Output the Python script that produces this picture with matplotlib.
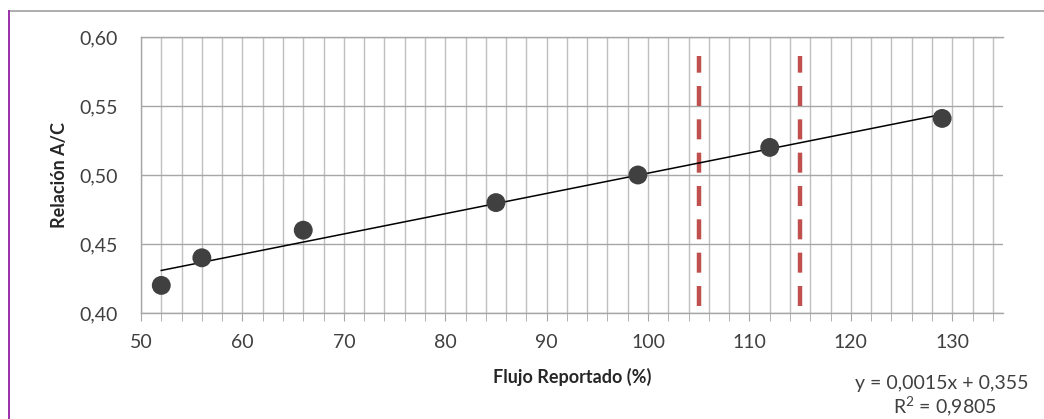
import numpy as np
import matplotlib
matplotlib.use("Agg")
import matplotlib.pyplot as plt
from matplotlib.ticker import MultipleLocator, FuncFormatter
from matplotlib.lines import Line2D

flujo = [52, 56, 66, 85, 99, 112, 129]
relacion = [0.42, 0.44, 0.46, 0.48, 0.50, 0.52, 0.541]
limites = [105, 115]
ecuacion = "y = 0,0015x + 0,355"
r2_texto = "R$^2$ = 0,9805"

plt.rcParams['font.family'] = ['Lato', 'DejaVu Sans']
plt.rcParams['mathtext.fontset'] = 'custom'
plt.rcParams['mathtext.rm'] = 'Lato'

fig = plt.figure(figsize=(10.44, 4.19), dpi=100)
ax = fig.add_axes([141 / 1044, 1 - 313 / 419, (1003 - 141) / 1044, (313 - 37) / 419])

# trend line from least squares fit
m, b = np.polyfit(flujo, relacion, 1)
xs = np.array([min(flujo), max(flujo)])
ax.plot(xs, m * xs + b, color="black", lw=1.1, zorder=3)

ax.scatter(flujo, relacion, s=185, color="#404040", zorder=4, edgecolors="none")

for x0 in limites:
    ax.plot([x0, x0], [0.405, 0.586], color="#C0504D", lw=3.2,
            dashes=(4.5, 3.0), zorder=2)

ax.set_xlim(50, 135)
ax.set_ylim(0.40, 0.60)
ax.xaxis.set_major_locator(MultipleLocator(10))
ax.xaxis.set_minor_locator(MultipleLocator(2))
ax.yaxis.set_major_locator(MultipleLocator(0.05))
ax.yaxis.set_major_formatter(FuncFormatter(lambda v, p: f"{v:.2f}".replace(".", ",")))

ax.grid(which="both", axis="x", color="#BFBFBF", lw=1.0, zorder=0)
ax.grid(which="major", axis="y", color="#A6A6A6", lw=1.0, zorder=0)
ax.set_axisbelow(True)

for s in ["left", "bottom", "top"]:
    ax.spines[s].set_color("#A6A6A6")
    ax.spines[s].set_linewidth(1.0)
ax.spines["right"].set_visible(False)

ax.tick_params(axis="x", which="both", direction="out", length=6, color="#A6A6A6",
               labelsize=14, labelcolor="#404040", pad=9)
ax.tick_params(axis="y", length=0, labelsize=14, labelcolor="#404040", pad=17)

ax.set_xlabel("Flujo Reportado (%)", fontsize=13, fontweight="bold", color="#262626", labelpad=12)
ax.set_ylabel("Relación A/C", fontsize=13, fontweight="bold", color="#262626", labelpad=8)

fig.text(942 / 1044, 1 - 383 / 419, ecuacion, ha="center", va="center", fontsize=14, color="#404040")
fig.text(945 / 1044, 1 - 407 / 419, r2_texto, ha="center", va="center", fontsize=14, color="#404040")

# chart-area border
fig.add_artist(Line2D([9 / 1044, 1], [1 - 11 / 419, 1 - 11 / 419], color="#A0A0A0", lw=1.2))
fig.add_artist(Line2D([9 / 1044, 9 / 1044], [0, 1 - 11 / 419], color="#9B30A8", lw=1.4))

fig.savefig("out.png", dpi=100)
